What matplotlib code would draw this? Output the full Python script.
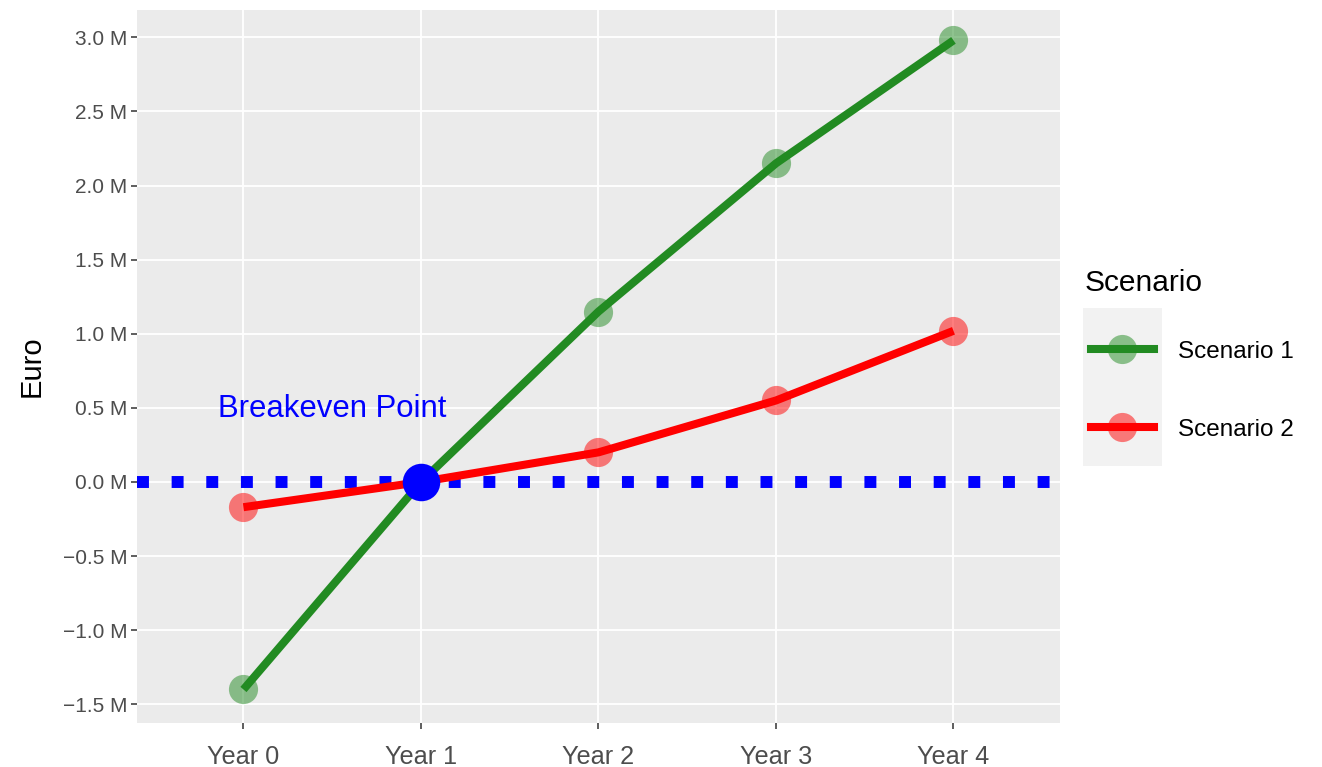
import numpy as np
import matplotlib
matplotlib.use('Agg')
import matplotlib.pyplot as plt
from matplotlib.lines import Line2D
from matplotlib.patches import Rectangle

years = ['Year 0', 'Year 1', 'Year 2', 'Year 3', 'Year 4']
scenario_1 = [-1.40, 0.0, 1.15, 2.15, 2.98]
scenario_2 = [-0.17, 0.0, 0.20, 0.55, 1.02]
breakeven_year = 1
breakeven_value = 0.0
y_ticks = [-1.5, -1.0, -0.5, 0.0, 0.5, 1.0, 1.5, 2.0, 2.5, 3.0]

plt.rcParams['font.family'] = ['Liberation Sans', 'DejaVu Sans']

fig = plt.figure(figsize=(13.22, 7.67), dpi=100)
ax = fig.add_axes([0.1036, 0.0574, 0.6982, 0.9296])
ax.set_facecolor('#EBEBEB')
for s in ax.spines.values():
    s.set_visible(False)

x = np.arange(len(years))
ax.set_xticks(x)
ax.set_xticklabels(years, fontsize=18.2, color='#4D4D4D')
ax.set_yticks(y_ticks)
ax.set_yticklabels([f'{v:.1f} M'.replace('-', '\u2212') for v in y_ticks],
                   fontsize=15, color='#4D4D4D')
ax.grid(True, color='white', linewidth=1.3)
ax.set_axisbelow(True)
ax.tick_params(axis='both', length=4, width=1.1, color='#333333')
ax.tick_params(axis='x', pad=12)
ax.tick_params(axis='y', pad=3)

# breakeven line
ax.axhline(0, color='blue', linewidth=8.6, dashes=(1, 1.9), dash_capstyle='butt', zorder=2)

colors = ['#228B22', '#FF0000']
for vals, c in zip([scenario_1, scenario_2], colors):
    ax.plot(x, vals, 'o', color=c, alpha=0.5, markersize=21, markeredgewidth=0, zorder=3)
    ax.plot(x, vals, '-', color=c, linewidth=5.8, solid_capstyle='butt', zorder=4)

ax.plot([breakeven_year], [breakeven_value], 'o', color='blue', markersize=27,
        markeredgewidth=0, zorder=5)
ax.text(breakeven_year - 0.5, 0.49, 'Breakeven Point', color='blue', fontsize=22.4,
        ha='center', va='center')

ax.set_xlim(-0.6, 4.6)
ax.set_ylim(-1.626, 3.185)
ax.set_ylabel('Euro', fontsize=21, labelpad=12)

# legend (title drawn separately)
fig.text(0.8205, 0.631, 'Scenario', fontsize=21.5, ha='left', va='center')
fig.patches.append(Rectangle((0.8192, 0.392), 0.0598, 0.206, transform=fig.transFigure,
                             facecolor='#F2F2F2', edgecolor='none'))
handles = [Line2D([], [], color=c, linewidth=5.8, marker='o', markersize=21,
                  markerfacecolor=matplotlib.colors.to_rgba(c, 0.5), markeredgewidth=0)
           for c in colors]
leg = fig.legend(handles, ['Scenario 1', 'Scenario 2'],
                 loc='upper left', bbox_to_anchor=(0.8085, 0.584), frameon=False,
                 fontsize=17.5, handlelength=2.6, labelspacing=2.3,
                 handletextpad=1.0)

fig.savefig('out.png', dpi=100)
